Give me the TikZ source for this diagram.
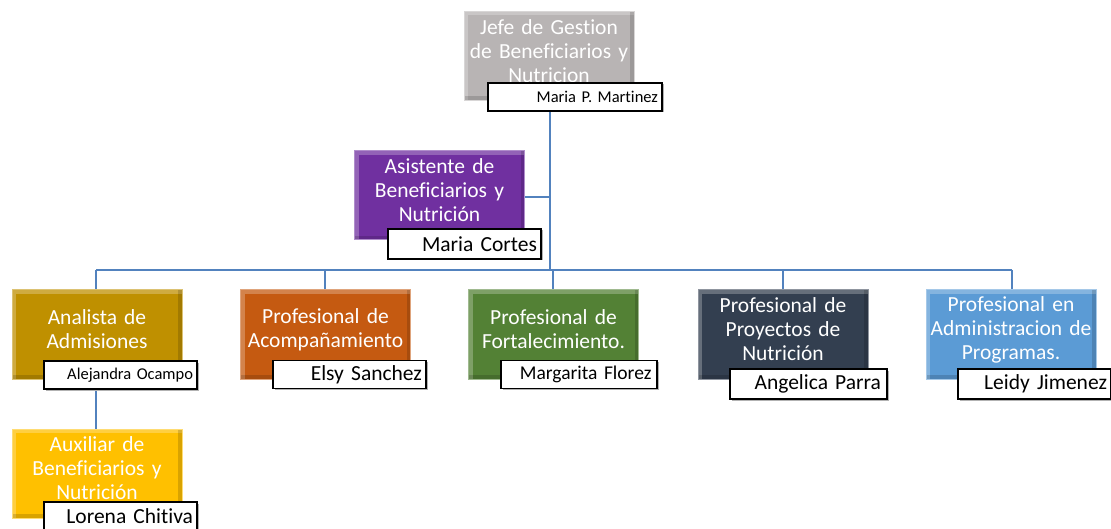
\documentclass[tikz,border=0pt]{standalone}
\usepackage{fontspec}
\setmainfont{Carlito}[Ligatures={NoCommon}]
\usetikzlibrary{shadows}
\definecolor{jefegray}{HTML}{B8B4B4}
\definecolor{asistpurple}{HTML}{7030A0}
\definecolor{anagold}{HTML}{BF9000}
\definecolor{acomporange}{HTML}{C55A11}
\definecolor{fortgreen}{HTML}{538135}
\definecolor{proyslate}{HTML}{333F50}
\definecolor{admblue}{HTML}{5B9BD5}
\definecolor{auxyellow}{HTML}{FFC000}
\definecolor{linkblue}{HTML}{5282BE}
\begin{document}
\begin{tikzpicture}[x=1pt,y=-1pt,
    cargo/.style={rectangle,fill=#1,draw=#1!55!white,line width=1pt,
        minimum width=170pt,minimum height=89pt,text width=168pt,inner sep=1pt,
        align=center,text=white,font=\fontsize{21.5}{24}\selectfont,
        execute at end node={\endgraf\vspace{10pt}},
        path picture={
            \draw[white,opacity=.25,line width=8pt]
                (path picture bounding box.south west) |- (path picture bounding box.north east);
            \draw[black,opacity=.15,line width=8pt]
                (path picture bounding box.south west) -| (path picture bounding box.north east);}},
    nombre/.style={rectangle,fill=white,draw=black,line width=1.5pt,
        minimum width=153pt,minimum height=28pt,text width=145pt,inner xsep=4pt,
        align=right,font=\fontsize{21.5}{23}\selectfont,
        drop shadow={shadow xshift=1.5pt,shadow yshift=-1.5pt,fill=gray!60,opacity=1}},
    link/.style={linkblue,line width=2.4pt},
    ]
    \useasboundingbox (0,0) rectangle (1111,529);
    % connectors first
    \coordinate (bus) at (550,270);
    \coordinate (jefetop) at (550,110);
    \coordinate (asistjoin) at (550,197);
    \coordinate (busleft) at (96,270);
    \coordinate (busright) at (1012,270);
    \draw[link] (jefetop) -- (bus);
    \draw[link] (asistjoin) -- (524,197);
    \draw[link] (busleft) -- (busright);
    \foreach \x in {96,325,553,783,1012}
        \draw[link] (\x,270) -- (\x,291);
    \draw[link] (96,389) -- (96,430);
    % jefe
    \node[cargo=jefegray] (jefe) at (549,56) {Jefe de Gestion\\de Beneficiarios y\\Nutricion};
    \node[nombre,minimum width=174pt,text width=166pt,font=\fontsize{16.5}{18}\selectfont] (jefen) at (575,97) {Maria P. Martinez};
    % asistente
    \node[cargo=asistpurple] (asist) at (439.5,195.5) {Asistente de\\Beneficiarios y\\Nutrición};
    \node[nombre,minimum height=30pt] (asistn) at (464.5,244) {Maria Cortes};
    % row of professionals
    \node[cargo=anagold] (ana) at (97,334.5) {Analista de\\Admisiones};
    \node[nombre,font=\fontsize{16.5}{18}\selectfont] (anan) at (120.5,375) {Alejandra Ocampo};
    \node[cargo=acomporange] (acomp) at (325.5,334.5) {Profesional de\\Acompañamiento};
    \node[nombre] (acompn) at (349.5,374.5) {Elsy Sanchez};
    \node[cargo=fortgreen] (fort) at (553.5,334.5) {Profesional de\\Fortalecimiento.};
    \node[nombre,minimum width=156pt,font=\fontsize{19.5}{21}\selectfont] (fortn) at (579,374.5) {Margarita Florez};
    \node[cargo=proyslate] (proy) at (783,334.5) {Profesional de\\Proyectos de\\Nutrición};
    \node[nombre,minimum width=157pt,minimum height=30pt] (proyn) at (808.5,384) {Angelica Parra};
    \node[cargo=admblue] (adm) at (1011,334.5) {Profesional en\\Administracion de\\Programas.};
    \node[nombre,minimum width=153pt,minimum height=30pt] (admn) at (1034.5,384) {Leidy Jimenez};
    % auxiliar
    \node[cargo=auxyellow] (aux) at (97,473.5) {Auxiliar de\\Beneficiarios y\\Nutrición};
    \node[nombre] (auxn) at (120.5,516) {Lorena Chitiva};
\end{tikzpicture}
\end{document}
